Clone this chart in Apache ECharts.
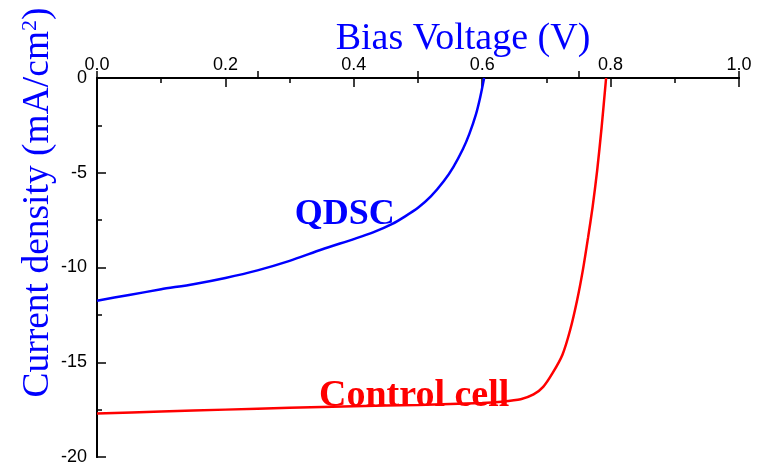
<!DOCTYPE html>
<html><head><meta charset="utf-8">
<script src="https://cdn.jsdelivr.net/npm/echarts@6/dist/echarts.min.js"></script>
<style>html,body{margin:0;padding:0;background:#fff}#c{width:763px;height:470px}</style>
</head><body><div id="c"></div>
<script>
// Data (Bias Voltage V, Current density mA/cm2)
const qdscV = [0, 0.05, 0.1, 0.15, 0.2, 0.25, 0.3, 0.35, 0.4, 0.43, 0.46, 0.48, 0.5, 0.52, 0.54, 0.555, 0.57, 0.58, 0.59, 0.597, 0.603];
const qdscJ = [-11.75, -11.45, -11.15, -10.88, -10.55, -10.15, -9.65, -9.05, -8.5, -8.15, -7.7, -7.3, -6.85, -6.25, -5.45, -4.7, -3.75, -2.95, -1.95, -1.0, 0];
const ctrlV = [0, 0.1, 0.2, 0.3, 0.4, 0.5, 0.6, 0.63, 0.66, 0.68, 0.695, 0.71, 0.725, 0.737, 0.748, 0.757, 0.765, 0.772, 0.779, 0.786, 0.793];
const ctrlJ = [-17.7, -17.6, -17.5, -17.4, -17.32, -17.25, -17.15, -17.08, -16.95, -16.7, -16.3, -15.55, -14.6, -13.3, -11.7, -10.1, -8.4, -6.8, -4.9, -2.6, 0];
const topTicks = [0, 0.2, 0.4, 0.6, 0.8, 1.0];
const leftTicks = [0, -5, -10, -15, -20];
const labels = ["QDSC", "Control cell"];
const labelPos = [[0.386, -7.2], [0.494, -16.78]];

const chart = echarts.init(document.getElementById('c'), null, {renderer: 'canvas'});
const blue = '#0000ff', red = '#ff0000';
const tickFont = {fontFamily: 'Liberation Sans', fontSize: 18, color: '#000'};
chart.setOption({
  animation: false,
  grid: {left: 97, right: 24, top: 78, bottom: 13, containLabel: false, outerBoundsMode: 'none'},
  xAxis: [{
    type: 'value', position: 'top', min: topTicks[0], max: topTicks[topTicks.length - 1], interval: 0.2,
    name: 'Bias Voltage (V)', nameLocation: 'middle', nameGap: 20, nameMoveOverlap: false,
    nameTextStyle: {fontFamily: 'Liberation Serif', fontSize: 38, color: blue, padding: [0, 0, 0, 90]},
    axisLine: {lineStyle: {color: '#000', width: 2}},
    axisTick: {inside: true, length: 9, lineStyle: {color: '#000', width: 1.5}},
    minorTick: {show: true, splitNumber: 2, length: 5, lineStyle: {color: '#000', width: 1.5}},
    axisLabel: Object.assign({margin: 4, formatter: v => v.toFixed(1)}, tickFont),
    splitLine: {show: false}
  }, {
    type: 'value', position: 'bottom', min: 0, max: 1, interval: 0.25,
    axisLine: {lineStyle: {color: '#000', width: 2}},
    axisTick: {inside: true, length: 7, lineStyle: {color: '#000', width: 1.5}},
    axisLabel: {show: false}, splitLine: {show: false}
  }],
  yAxis: [{
    type: 'value', position: 'left', min: leftTicks[4], max: leftTicks[0], interval: 5,
    name: '{a|Current density (mA/cm}{s|2}{a|)}', nameLocation: 'middle', nameGap: 40, nameMoveOverlap: false,
    nameTextStyle: {padding: [0, 0, 0, 130], rich: {
      a: {fontFamily: 'Liberation Serif', fontSize: 37.5, color: blue},
      s: {fontFamily: 'Liberation Serif', fontSize: 22, color: blue, verticalAlign: 'top', padding: [0, 0, 14, 0]}
    }},
    axisLine: {lineStyle: {color: '#000', width: 2}},
    axisTick: {inside: true, length: 9, lineStyle: {color: '#000', width: 1.5}},
    minorTick: {show: true, splitNumber: 2, length: 5, lineStyle: {color: '#000', width: 1.5}},
    axisLabel: Object.assign({margin: 10}, tickFont),
    splitLine: {show: false}
  }, {
    type: 'value', position: 'right', min: -20, max: 0, interval: 5,
    axisLine: {show: true, lineStyle: {color: '#000', width: 2}},
    axisTick: {show: false}, axisLabel: {show: false}, splitLine: {show: false}
  }],
  series: [{
    type: 'line', xAxisIndex: 0, yAxisIndex: 0, showSymbol: false, smooth: 0.25,
    data: qdscV.map((v, i) => [v, qdscJ[i]]), lineStyle: {color: blue, width: 2.5}
  }, {
    type: 'line', xAxisIndex: 0, yAxisIndex: 0, showSymbol: false, smooth: 0.25,
    data: ctrlV.map((v, i) => [v, ctrlJ[i]]), lineStyle: {color: red, width: 2.5}
  }, {
    type: 'scatter', xAxisIndex: 0, yAxisIndex: 0, symbolSize: 0, silent: true,
    itemStyle: {opacity: 1},
    data: labels.map((t, i) => ({value: labelPos[i], name: t,
      label: {color: i ? red : blue, fontSize: i ? 38 : 36}})),
    label: {show: true, position: 'inside', formatter: p => p.name,
      fontFamily: 'Liberation Serif', fontWeight: 'bold', fontSize: 36}
  }]
});
</script>
</body></html>
